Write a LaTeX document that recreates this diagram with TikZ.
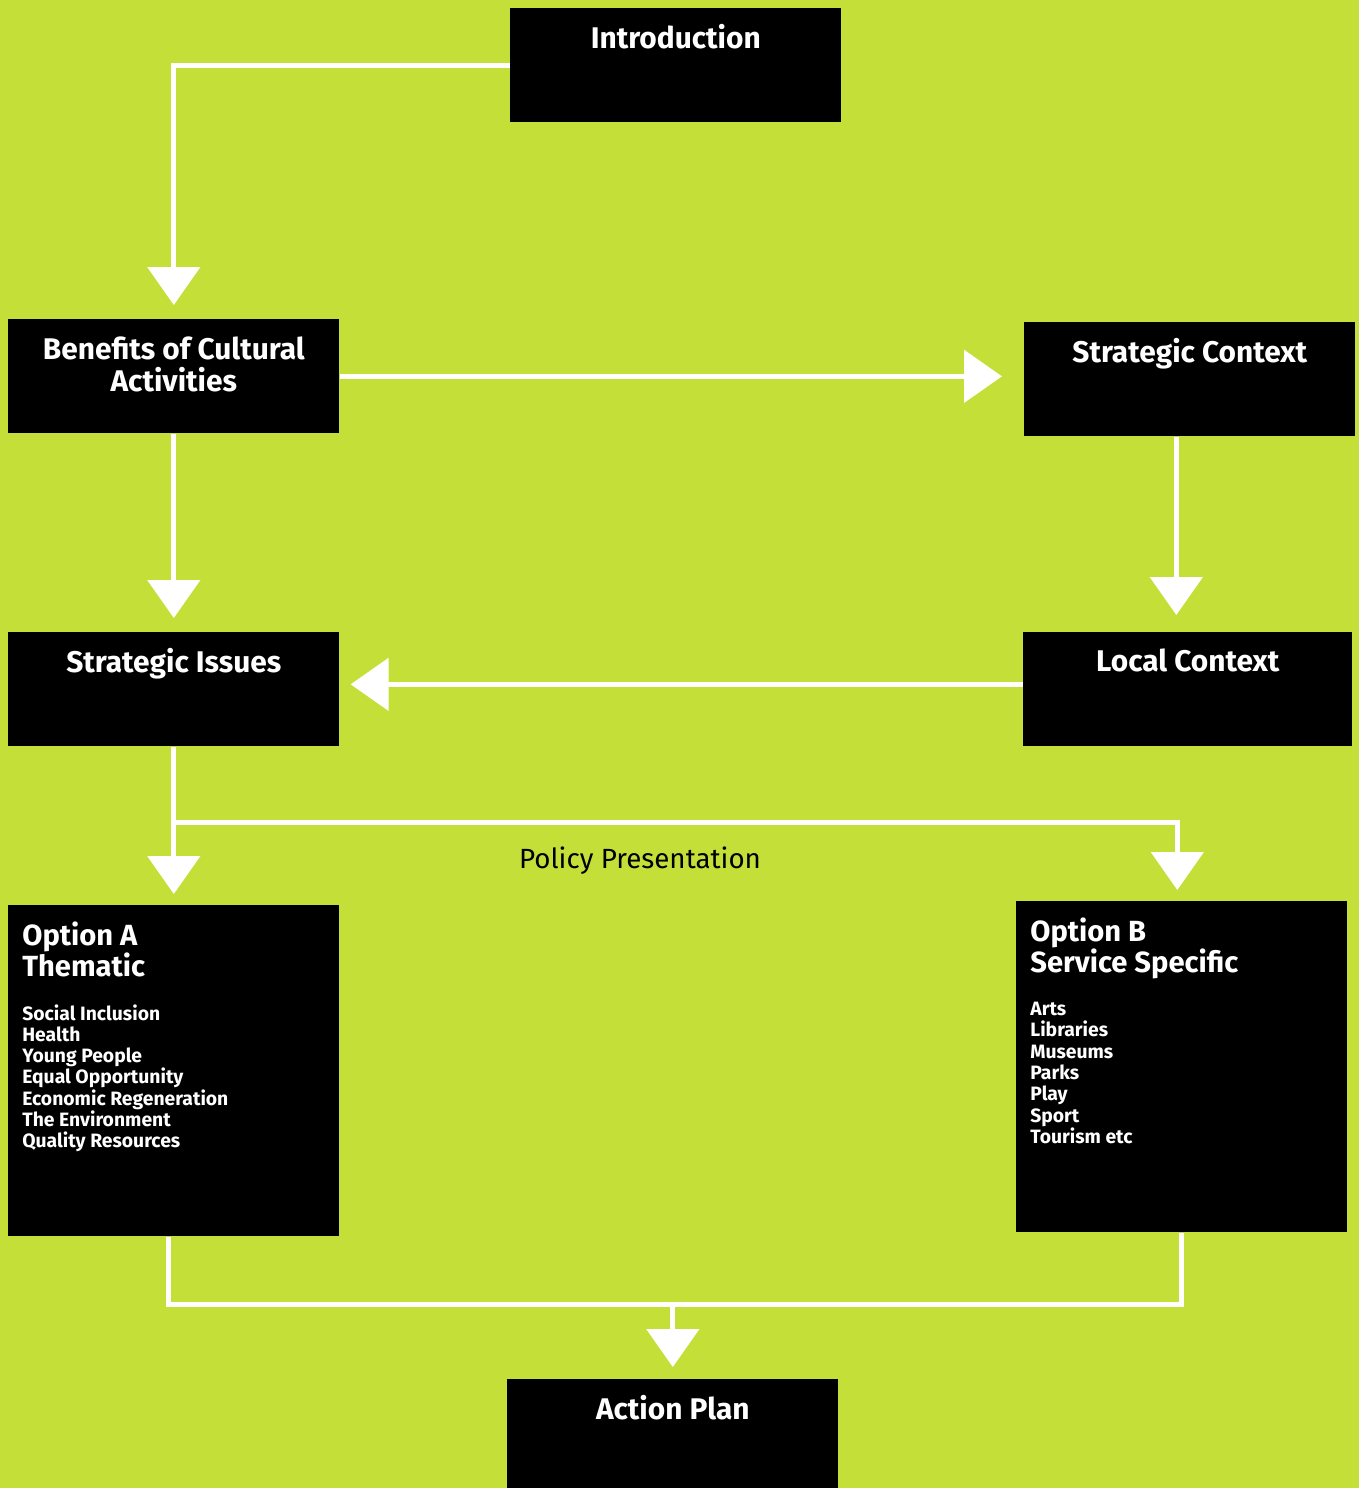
\documentclass[tikz,border=0pt]{standalone}
\usepackage{fontspec}
\setmainfont{Fira Sans}
\usetikzlibrary{arrows.meta,positioning,calc}
\definecolor{limebg}{RGB}{196,223,56}

\tikzset{
  box/.style={fill=black, minimum width=6.62cm, minimum height=2.28cm, inner sep=0pt, anchor=north west},
  tall/.style={minimum height=6.62cm},
  title/.style={text=white, font=\fontsize{17}{18.2}\selectfont\bfseries, align=center, anchor=north, inner sep=0pt},
  head/.style={text=white, font=\fontsize{16.6}{18.1}\selectfont\bfseries, align=left, anchor=north west, inner sep=0pt},
  items/.style={text=white, font=\fontsize{11}{12.1}\selectfont\bfseries, align=left, anchor=north west, inner sep=0pt},
  wire/.style={draw=white, line width=0.1cm},
  link/.style={wire, -{Triangle[width=1.04cm,length=0.76cm]}}
}

\begin{document}
\begin{tikzpicture}[x=0.02cm,y=-0.02cm]
  \useasboundingbox (0,0) rectangle (1359,1488);
  \fill[limebg] (0,0) rectangle (1359,1488);

  \node[box] (intro) at (510,8) {};
  \node[box] (benefits) at (8,319) {};
  \node[box] (strategic) at (1024,322) {};
  \node[box] (issues) at (8,632) {};
  \node[box, minimum width=6.58cm] (local) at (1023,632) {};
  \node[box,tall] (optA) at (8,905) {};
  \node[box,tall] (optB) at (1016,901) {};
  \node[box] (action) at (507,1379) {};

  \node[title] (introtext) at ([yshift=-0.32cm]intro.north) {Introduction};
  \node[title] (benefitstext) at ([yshift=-0.34cm]benefits.north) {Benefits of Cultural\\Activities};
  \node[title] (strategictext) at ([yshift=-0.32cm]strategic.north) {Strategic Context};
  \node[title] (issuestext) at ([yshift=-0.32cm]issues.north) {Strategic Issues};
  \node[title] (localtext) at ([yshift=-0.32cm]local.north) {Local Context};
  \node[title] (actiontext) at ([yshift=-0.32cm]action.north) {Action Plan};

  \node[head] (optAhead) at ([xshift=0.28cm,yshift=-0.32cm]optA.north west) {Option A\\Thematic};
  \node[items] (optAlist) at ([xshift=0.28cm,yshift=-1.98cm]optA.north west)
    {Social Inclusion\\Health\\Young People\\Equal Opportunity\\Economic Regeneration\\The Environment\\Quality Resources};
  \node[head] (optBhead) at ([xshift=0.28cm,yshift=-0.32cm]optB.north west) {Option B\\Service Specific};
  \node[items] (optBlist) at ([xshift=0.28cm,yshift=-2.02cm]optB.north west)
    {Arts\\Libraries\\Museums\\Parks\\Play\\Sport\\Tourism etc};

  \node[font=\fontsize{15.8}{17}\selectfont, inner sep=0pt] (policytext) at (640,861) {Policy Presentation};

  \draw[link, shorten >=0.28cm] (intro.west) -| (benefits.north);
  \draw[link, shorten >=0.44cm] (benefits.east) -- (strategic.west |- benefits.east);
  \draw[link, shorten >=0.28cm] (benefits.south) -- (issues.north);
  \draw[link, shorten >=0.34cm] ([xshift=-0.27cm]strategic.south) -- ([xshift=-0.27cm]strategic.south |- local.north);
  \draw[link, shorten >=0.22cm] ([yshift=0.1cm]local.west) -- ([yshift=0.1cm]local.west -| issues.east);
  \draw[link, shorten >=0.22cm] (issues.south) -- (optA.north);
  \coordinate (split) at ($(issues.south)!0.48!(optA.north)$);
  \draw[link, shorten >=0.22cm] (split) -| ([xshift=-0.09cm]optB.north);
  \coordinate (join) at ([yshift=1.5cm]action.north);
  \draw[wire] ([xshift=-0.11cm]optA.south) |- (join) -| (optB.south);
  \draw[link, shorten >=0.24cm] (join) -- (action.north);
\end{tikzpicture}
\end{document}
